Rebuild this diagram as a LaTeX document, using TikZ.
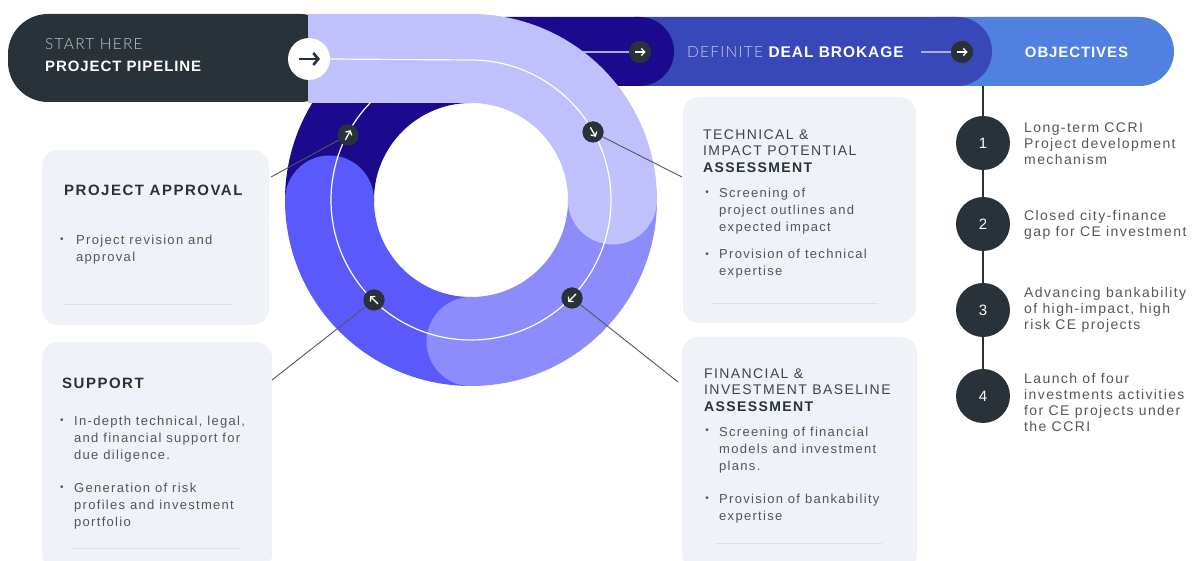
\documentclass[tikz,border=0pt]{standalone}
\usepackage{fontspec}
\setmainfont{Liberation Sans}[LetterSpace=10]
\newfontfamily\headfont{Liberation Sans}[LetterSpace=6]
\IfFontExistsTF{Lato Light}
  {\newfontfamily\lightfont{Lato Light}[LetterSpace=8]}
  {\newfontfamily\lightfont{Liberation Sans}[LetterSpace=8]}
\usetikzlibrary{arrows.meta,calc}

\definecolor{ink}{HTML}{283238}
\definecolor{lav}{HTML}{C0C0FC}
\definecolor{peri}{HTML}{8C8CFC}
\definecolor{blu}{HTML}{5A5AFC}
\definecolor{navy}{HTML}{1B0A8E}
\definecolor{deal}{HTML}{3848B8}
\definecolor{obj}{HTML}{5080E0}
\definecolor{card}{HTML}{EFF2F7}
\definecolor{txt}{HTML}{50575D}
\definecolor{tgray}{HTML}{3E454A}
\definecolor{rule}{HTML}{DCE0E6}
\definecolor{feed}{HTML}{A8ACE0}
\definecolor{starttxt}{HTML}{C4C8CC}
\definecolor{dealtxt}{HTML}{C8CCF0}

\tikzset{
  band/.style={line width=89pt},
  cardbox/.style={fill=card, rounded corners=16pt, inner sep=0pt},
  body/.style={font=\fontsize{13}{17}\selectfont, text=txt, align=left, anchor=west, inner sep=0pt},
  objtext/.style={font=\fontsize{14}{16}\selectfont, text=txt, align=left, anchor=west, inner sep=0pt},
  cardtitle/.style={font=\fontsize{15}{18}\bfseries\selectfont, text=ink, anchor=west, inner sep=0pt},
  boxtitle/.style={font=\fontsize{14}{16.5}\selectfont, text=ink, align=left, anchor=west, inner sep=0pt},
  dot/.style={font=\fontsize{10}{10}\selectfont, text=txt, inner sep=0pt},
  sep/.style={draw=rule, line width=1pt},
  lead/.style={draw=txt, line width=0.9pt},
  pointer/.style={circle, fill=ink, minimum size=21pt, inner sep=0pt},
  smallarrow/.style={circle, fill=ink, minimum size=22pt, inner sep=0pt},
  numdot/.style={circle, fill=ink, minimum size=54pt, inner sep=0pt, text=white, font=\fontsize{15}{15}\selectfont},
  tip/.style={draw=white, line width=1.3pt, -{Straight Barb[length=3.2pt,width=7pt]}},
}

\begin{document}
\begin{tikzpicture}[x=1pt,y=1pt]
\useasboundingbox (0,0) rectangle (1197,560);

% ---- stage pills on the top row
\fill[obj, rounded corners=34.5pt] (900,474) rectangle (1174,543);
\fill[deal, rounded corners=34.5pt] (600,474) rectangle (992,543);
\fill[navy, rounded corners=34.5pt] (470,474) rectangle (674,543);

% ---- arrow markers on the top row
\node[smallarrow] (s1) at (640,508) {};
\node[smallarrow] (s2) at (962,508) {};
\coordinate (f1) at (560,508);
\coordinate (f2) at (921,508);
\draw[feed, line width=1.2pt] (f1) -- (s1);
\draw[feed, line width=1.2pt] (f2) -- (s2);
\node[smallarrow] at (s1) {};
\node[smallarrow] at (s2) {};
\draw[tip] ($(s1)+(-5.5,0)$) -- ($(s1)+(5.5,0)$);
\draw[tip] ($(s2)+(-5.5,0)$) -- ($(s2)+(5.5,0)$);

% ---- start pill
\fill[ink, rounded corners=40pt] (8,458) rectangle (340,546);

% ---- the cycle ring (centre 471,360)
\draw[navy, band] (329.5,360) arc[start angle=180, end angle=90, radius=141.5pt];
\draw[blu, band] (471,218.5) arc[start angle=270, end angle=180, radius=141.5pt];
\fill[blu] (329.5,360) circle[radius=44.5pt];
\draw[peri, band] (612.5,360) arc[start angle=0, end angle=-90, radius=141.5pt];
\fill[peri] (471,218.5) circle[radius=44.5pt];
\fill[lav] (308,457) rectangle (471.5,546);
\draw[lav, band] (471,501.5) arc[start angle=90, end angle=0, radius=141.5pt];
\fill[lav] (612.5,360) circle[radius=44.5pt];

% ---- flow line
\node[circle, fill=white, minimum size=42pt, inner sep=0pt] (go) at (309,501) {};
\draw[white, line width=1.2pt] (go.east) -- (471,500) arc[start angle=90, end angle=-224, radius=140pt];
\draw[ink, line width=2.6pt, -{Straight Barb[length=5pt,width=12pt]}] ($(go)+(-10,0)$) -- ($(go)+(11,0)$);

% ---- text on the top row
\node[anchor=west, inner sep=0pt, text=starttxt, font=\lightfont\fontsize{15.5}{15}\selectfont] (start) at (45,516) {START HERE};
\node[anchor=west, inner sep=0pt, text=white, font=\headfont\fontsize{15}{15}\bfseries\selectfont] (pipe) at (45,494) {PROJECT PIPELINE};
\node[anchor=west, inner sep=0pt, text=dealtxt, font=\lightfont\fontsize{15.5}{15}\selectfont] (deal) at (687,508) {DEFINITE \textcolor{white}{\headfont\bfseries DEAL BROKAGE}};
\node[inner sep=0pt, text=white, font=\headfont\fontsize{15}{15}\bfseries\selectfont] (objt) at (1076.5,508) {OBJECTIVES};

% ---- cards
\node[cardbox, minimum width=227pt, minimum height=175pt] (appr) at (155.5,322.5) {};
\node[cardbox, minimum width=230pt, minimum height=228pt] (supp) at (157,104) {};
\node[cardbox, minimum width=233pt, minimum height=226pt] (tech) at (799.5,350) {};
\node[cardbox, minimum width=235pt, minimum height=233pt] (fin) at (799.5,106.5) {};

% ---- pointers on the ring and their leaders
\node[pointer] (p1) at (348,425) {};
\node[pointer] (p2) at (593,428) {};
\node[pointer] (p3) at (374,260) {};
\node[pointer] (p4) at (572,262) {};
\coordinate (c1) at (271,383);
\coordinate (c2) at (682,383);
\coordinate (c3) at (272,180);
\coordinate (c4) at (678,178);
\draw[lead] (p1) -- (c1);
\draw[lead] (p2) -- (c2);
\draw[lead] (p3) -- (c3);
\draw[lead] (p4) -- (c4);
\node[pointer] at (p1) {};
\node[pointer] at (p2) {};
\node[pointer] at (p3) {};
\node[pointer] at (p4) {};
\draw[tip] ($(p1)+(242:5.5)$) -- ($(p1)+(62:5.5)$);
\draw[tip] ($(p2)+(119:5.5)$) -- ($(p2)+(-61:5.5)$);
\draw[tip] ($(p3)+(-44:5.5)$) -- ($(p3)+(136:5.5)$);
\draw[tip] ($(p4)+(46:5.5)$) -- ($(p4)+(226:5.5)$);

% ---- PROJECT APPROVAL
\node[cardtitle] (apprt) at (64,370) {PROJECT APPROVAL};
\node[dot] (ad1) at (62,320) {•};
\node[body] (ab1) at (76,310) {Project revision and\\approval};
\draw[sep] (65,255) -- (233,255);

% ---- SUPPORT
\node[cardtitle] (suppt) at (62,177) {SUPPORT};
\node[dot] (sd1) at (62,139) {•};
\node[body] (sb1) at (74,121) {In-depth technical, legal,\\and financial support for\\due diligence.};
\node[dot] (sd2) at (62,72) {•};
\node[body] (sb2) at (74,54) {Generation of risk\\profiles and investment\\portfolio};
\draw[sep] (72,12) -- (240,12);

% ---- TECHNICAL & IMPACT POTENTIAL ASSESSMENT
\node[boxtitle] (techt) at (703,409) {\textcolor{tgray}{TECHNICAL \&}\\\textcolor{tgray}{IMPACT POTENTIAL}\\\textbf{ASSESSMENT}};
\node[dot] (td1) at (707,367) {•};
\node[body] (tb1) at (719,349) {Screening of\\project outlines and\\expected impact};
\node[dot] (td2) at (707,305) {•};
\node[body] (tb2) at (719,296) {Provision of technical\\expertise};
\draw[sep] (711,256) -- (878,256);

% ---- FINANCIAL & INVESTMENT BASELINE ASSESSMENT
\node[boxtitle] (fint) at (704,170) {\textcolor{tgray}{FINANCIAL \&}\\\textcolor{tgray}{INVESTMENT BASELINE}\\\textbf{ASSESSMENT}};
\node[dot] (fd1) at (707,129) {•};
\node[body] (fb1) at (719,110) {Screening of financial\\models and investment\\plans.};
\node[dot] (fd2) at (707,61) {•};
\node[body] (fb2) at (719,51) {Provision of bankability\\expertise};
\draw[sep] (716,17) -- (882,17);

% ---- objectives timeline
\node[numdot] (o1) at (983,417) {1};
\node[numdot] (o2) at (983,336) {2};
\node[numdot] (o3) at (983,250) {3};
\node[numdot] (o4) at (983,164) {4};
\draw[ink, line width=1.3pt] (983,474) -- (o1);
\draw[ink, line width=1.3pt] (o1) -- (o2);
\draw[ink, line width=1.3pt] (o2) -- (o3);
\draw[ink, line width=1.3pt] (o3) -- (o4);
\node[objtext] (ot1) at (1024,416) {Long-term CCRI\\Project development\\mechanism};
\node[objtext] (ot2) at (1024,335) {Closed city-finance\\gap for CE investment};
\node[objtext] (ot3) at (1024,250) {Advancing bankability\\of high-impact, high\\risk CE projects};
\node[objtext] (ot4) at (1024,158) {Launch of four\\investments activities\\for CE projects under\\the CCRI};
\end{tikzpicture}
\end{document}
